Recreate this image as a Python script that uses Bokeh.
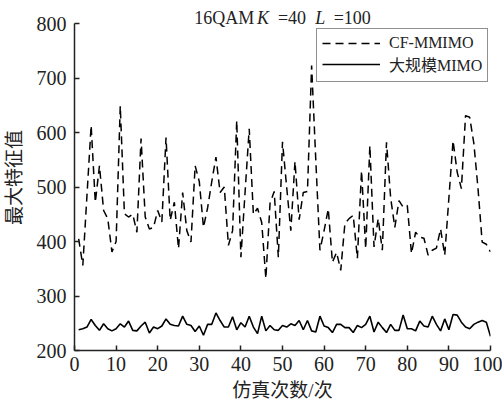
from bokeh.plotting import figure
from bokeh.models import ColumnDataSource, FixedTicker, Label
from bokeh.embed import file_html
from bokeh.resources import INLINE

# ---- data ----
runs = list(range(1, 101))
cf_mmimo = [405, 356, 485, 613, 472, 539, 457, 442, 381, 400,
            649, 451, 445, 450, 417, 589, 445, 423, 426, 457,
            436, 591, 439, 472, 387, 490, 420, 399, 539, 510,
            426, 462, 510, 555, 490, 500, 393, 420, 622, 371,
            490, 607, 450, 461, 435, 332, 470, 492, 371, 583,
            500, 420, 547, 440, 490, 492, 723, 550, 384, 420,
            460, 362, 380, 347, 433, 442, 448, 369, 530, 387,
            576, 390, 442, 384, 582, 480, 426, 475, 463, 466,
            378, 417, 408, 406, 375, 384, 388, 423, 375, 480,
            585, 527, 497, 631, 628, 580, 497, 399, 395, 381]
massive_mimo = [238, 240, 243, 257, 246, 237, 249, 240, 236, 240,
                249, 243, 254, 237, 236, 245, 252, 232, 243, 240,
                245, 258, 248, 246, 245, 263, 248, 246, 235, 245,
                228, 248, 248, 269, 255, 243, 243, 262, 238, 251,
                243, 263, 243, 231, 263, 236, 246, 238, 237, 246,
                243, 249, 246, 255, 238, 255, 236, 234, 263, 245,
                242, 233, 248, 248, 242, 242, 233, 246, 242, 248,
                263, 234, 252, 242, 233, 248, 237, 237, 265, 240,
                240, 236, 254, 245, 243, 263, 248, 236, 258, 238,
                266, 265, 252, 243, 240, 248, 252, 255, 252, 226]
x_ticks = [0, 10, 20, 30, 40, 50, 60, 70, 80, 90, 100]
y_ticks = [200, 300, 400, 500, 600, 700, 800]
title_parts = ["16QAM", "K", "=40", "L", "=100"]
series_names = ["CF-MMIMO", "大规模MIMO"]
x_label = "仿真次数/次"
y_label = "最大特征值"

SERIF = "Liberation Serif"
MIXED = "Liberation Serif, Noto Sans CJK SC"

src = ColumnDataSource(dict(x=runs, cf=cf_mmimo, mimo=massive_mimo))

# frame extends a little above 800 so the title fits inside it;
# the y axis itself is bounded to 200..800
p = figure(width=502, height=406, x_range=(0, 100), y_range=(200, 835),
           output_backend="svg", toolbar_location=None, title=None,
           min_border_left=73, min_border_right=12, min_border_top=4,
           min_border_bottom=56)
p.outline_line_color = None
p.xgrid.visible = False
p.ygrid.visible = False
p.background_fill_color = "white"

p.line('x', 'cf', source=src, line_color="black", line_width=1.5,
       line_dash="8 5", legend_label=series_names[0])
p.line('x', 'mimo', source=src, line_color="black", line_width=1.6,
       legend_label=series_names[1])

p.xaxis.ticker = FixedTicker(ticks=x_ticks)
p.yaxis.ticker = FixedTicker(ticks=y_ticks)
p.yaxis.bounds = (y_ticks[0], y_ticks[-1])
for ax in (p.xaxis, p.yaxis):
    ax.axis_line_color = "#222222"
    ax.axis_line_width = 1.5
    ax.major_tick_line_color = "#222222"
    ax.major_tick_line_width = 1.5
    ax.major_tick_in = 5
    ax.major_tick_out = 0
    ax.minor_tick_line_color = None
    ax.major_label_text_font = SERIF
    ax.major_label_text_font_size = "20px"
    ax.major_label_text_color = "#222222"
    ax.axis_label_text_font = MIXED
    ax.axis_label_text_font_size = "19px"
    ax.axis_label_text_font_style = "normal"
    ax.axis_label_text_color = "#222222"
p.xaxis.major_label_standoff = 6
p.yaxis.major_label_standoff = 8
p.xaxis.axis_label = x_label
p.yaxis.axis_label = y_label
p.xaxis.axis_label_standoff = 6
p.yaxis.axis_label_standoff = 9

# title pieces (K and L italic)
title_x = [28.8, 43.9, 48.9, 57.9, 62.3]
title_styles = ["normal", "italic", "normal", "italic", "normal"]
for tx, txt, st in zip(title_x, title_parts, title_styles):
    p.add_layout(Label(x=tx, y=810, text=txt, text_font=SERIF,
                       text_font_size="18px", text_font_style=st,
                       text_baseline="middle", text_align="left",
                       text_color="#222222"))

lg = p.legend[0]
lg.location = (242, 268)
lg.label_text_font = MIXED
lg.label_text_font_size = "16px"
lg.label_text_color = "#222222"
lg.border_line_color = "#222222"
lg.border_line_width = 1
lg.background_fill_alpha = 1.0
lg.padding = 5
lg.spacing = 0
lg.margin = 0
lg.glyph_width = 58
lg.glyph_height = 16
lg.label_height = 16
lg.label_standoff = 9

open("out.html", "w").write(file_html(p, INLINE))
